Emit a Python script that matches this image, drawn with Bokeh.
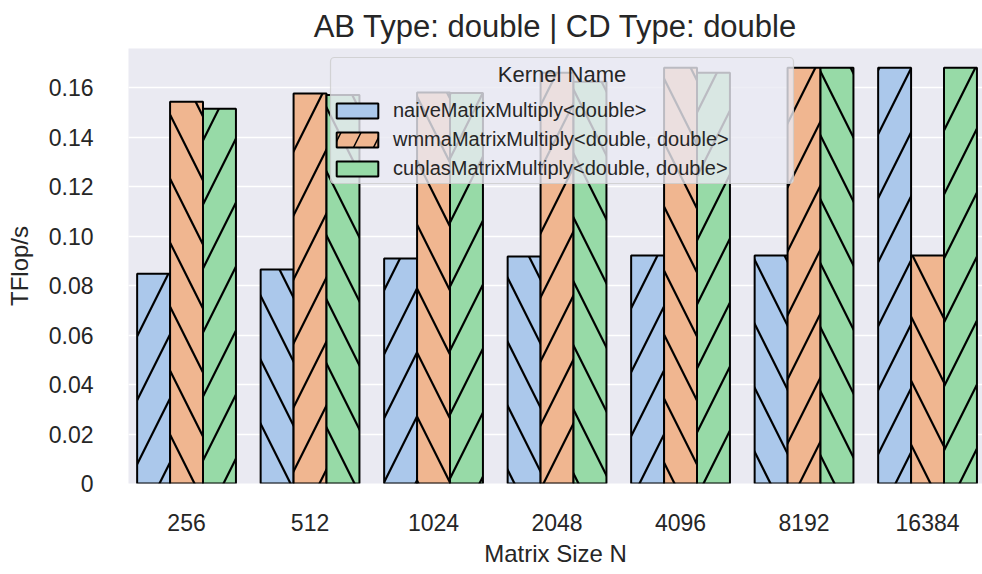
from bokeh.plotting import figure
from bokeh.models import (ColumnDataSource, Range1d, FixedTicker, Legend, LegendItem,
                          BoxAnnotation, Label)
from bokeh.embed import file_html
from bokeh.resources import INLINE

# ---- data ----
sizes = ["256", "512", "1024", "2048", "4096", "8192", "16384"]
kernels = ["naiveMatrixMultiply<double>",
           "wmmaMatrixMultiply<double, double>",
           "cublasMatrixMultiply<double, double>"]
naive = [0.0848, 0.0865, 0.0909, 0.0917, 0.0921, 0.0921, 0.1680]
wmma = [0.1543, 0.1576, 0.1580, 0.1660, 0.1680, 0.1680, 0.0921]
cublas = [0.1515, 0.1570, 0.1578, 0.1624, 0.1660, 0.1680, 0.1680]
y_ticks = [0, 0.02, 0.04, 0.06, 0.08, 0.10, 0.12, 0.14, 0.16]
y_tick_labels = ["0", "0.02", "0.04", "0.06", "0.08", "0.10", "0.12", "0.14", "0.16"]
colors = ["#ABC8EB", "#F0B690", "#97DAA7"]
title_text = "AB Type: double | CD Type: double"

FONT = "Liberation Sans"
TXT = "#262626"

frame_w, frame_h = 854, 435
x0 = -0.47
x1 = x0 + frame_w / 123.5
y0, y1 = 0.0, 0.1758
px_x = frame_w / (x1 - x0)
px_y = frame_h / (y1 - y0)

p = figure(frame_width=frame_w, frame_height=frame_h,
           x_range=Range1d(x0, x1), y_range=Range1d(y0, y1),
           output_backend="svg", toolbar_location=None,
           min_border_left=128, min_border_right=0, min_border_top=48, min_border_bottom=91,
           title=title_text)
p.background_fill_color = "#EAEAF2"
p.border_fill_color = "white"
p.outline_line_color = None

p.title.text_font = FONT
p.title.text_font_size = "31px"
p.title.text_font_style = "normal"
p.title.text_color = TXT
p.title.align = "center"
p.title.vertical_align = "bottom"
p.title.standoff = 10

# bars
bw = 0.8 / 3
series = [naive, wmma, cublas]
for s, vals in enumerate(series):
    xs = [i + (s - 1) * bw for i in range(len(sizes))]
    hatches = ["right_diagonal_line" if (i * 3 + s) % 2 == 0 else "left_diagonal_line"
               for i in range(len(sizes))]
    src = ColumnDataSource(dict(x=xs, top=vals, hatch=hatches))
    p.vbar(x="x", top="top", width=bw, bottom=0, source=src,
           fill_color=colors[s], line_color="black", line_width=2,
           hatch_pattern="hatch", hatch_color="black", hatch_weight=2.2, hatch_scale=64)

# axes
p.xaxis.ticker = FixedTicker(ticks=list(range(len(sizes))))
p.xaxis.major_label_overrides = {i: lab for i, lab in enumerate(sizes)}
p.yaxis.ticker = FixedTicker(ticks=y_ticks)
p.yaxis.major_label_overrides = {t: lab for t, lab in zip(y_ticks, y_tick_labels)}
p.xaxis.axis_label = "Matrix Size N"
p.yaxis.axis_label = "TFlop/s"
for ax in (p.xaxis, p.yaxis):
    ax.axis_line_color = None
    ax.major_tick_line_color = None
    ax.minor_tick_line_color = None
    ax.major_tick_out = 0
    ax.major_tick_in = 0
    ax.major_label_text_font = FONT
    ax.major_label_text_font_size = "23px"
    ax.major_label_text_color = TXT
    ax.axis_label_text_font = FONT
    ax.axis_label_text_font_size = "24px"
    ax.axis_label_text_font_style = "normal"
    ax.axis_label_text_color = TXT
p.xaxis.major_label_standoff = 30
p.yaxis.major_label_standoff = 35
p.xaxis.axis_label_standoff = 6
p.yaxis.axis_label_standoff = 13

p.xgrid.grid_line_color = None
p.ygrid.grid_line_color = "white"
p.ygrid.grid_line_width = 1.5

# helpers: pixel offsets from frame's left / top edge -> data coordinates
def dx(px):
    return x0 + px / px_x
def dy(px_from_top):
    return y1 - px_from_top / px_y

# legend background box
box = BoxAnnotation(left=dx(202), right=dx(665), top=dy(9), bottom=dy(135),
                    fill_color="#EAEAF2", fill_alpha=0.8,
                    line_color="#CCCCCC", line_alpha=0.8, line_width=1.2,
                    border_radius=4, level="annotation")
p.add_layout(box)

# legend-only renderers (one hidden point so the legend glyph gets its style)
nan = float("nan")
items = []
for s in range(3):
    r = p.vbar(x=[nan], top=[nan], width=bw, fill_color=colors[s], line_color="black",
               line_width=2,
               hatch_pattern="right_diagonal_line" if s == 1 else None,
               hatch_color="black", hatch_weight=1.5, hatch_scale=40)
    items.append(LegendItem(label=kernels[s], renderers=[r]))

legend = Legend(items=items, location=(203, 303),
                background_fill_alpha=0, border_line_color=None,
                padding=6, spacing=5, margin=0,
                glyph_width=52, glyph_height=19, label_height=24, label_standoff=10,
                label_text_font=FONT, label_text_font_size="20px", label_text_color=TXT)
p.add_layout(legend)

leg_title = Label(x=dx(433.5), y=dy(26), text="Kernel Name", text_align="center",
                  text_baseline="middle", text_font=FONT, text_font_size="22px",
                  text_color=TXT)
p.add_layout(leg_title)

open("out.html", "w").write(file_html(p, INLINE))
